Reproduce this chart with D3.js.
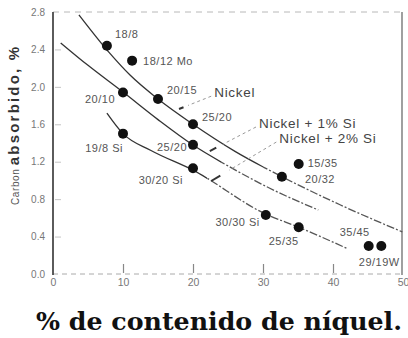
<!DOCTYPE html>
<html>
<head>
<meta charset="utf-8">
<script src="https://cdn.jsdelivr.net/npm/d3@7/dist/d3.min.js"></script>
<style>
  html, body { margin: 0; padding: 0; background: #fff; }
  svg { display: block; }
</style>
</head>
<body>
<svg id="chart" width="408" height="338"></svg>
<script>
// Alloys: Cr/Ni designation, nickel content (%) and absorbed carbon (%)
const alloyLabels = ["18/8", "18/12 Mo", "20/10", "19/8 Si", "20/15", "25/20", "25/20",
                     "30/20 Si", "30/30 Si", "15/35", "20/32", "25/35", "35/45", "29/19W"];
const alloyNickel = [7.7, 11.3, 10, 10, 15, 20, 20, 20, 30.4, 35.1, 32.7, 35.1, 45.1, 46.9];
const alloyCarbon = [2.44, 2.28, 1.94, 1.50, 1.87, 1.60, 1.38, 1.13, 0.63, 1.175, 1.04, 0.50, 0.30, 0.30];

// Trend curves (nickel %, carbon %)
const curveNames = ["Nickel", "Nickel + 1% Si", "Nickel + 2% Si"];
const nickelCurveX = [3.7, 8.1, 11.0, 15.0, 20.0, 26.0, 32.7, 41.0, 49.9];
const nickelCurveY = [2.77, 2.36, 2.126, 1.87, 1.60, 1.31, 1.04, 0.74, 0.45];
const si1CurveX = [1.1, 5.0, 10.0, 15.0, 20.0, 25.0, 30.9, 37.9];
const si1CurveY = [2.47, 2.23, 1.944, 1.65, 1.378, 1.155, 0.919, 0.684];
const si2CurveX = [7.7, 10.0, 14.0, 20.0, 30.4, 35.1, 42.1];
const si2CurveY = [1.72, 1.50, 1.32, 1.11, 0.64, 0.50, 0.27];

// Leader lines from each curve name to its curve: [startX, startY, endX, endY]
const leaderNickel = [22.6, 1.90, 18.0, 1.763];
const leaderSi1 = [29.0, 1.571, 22.4, 1.314];
const leaderSi2 = [31.9, 1.41, 22.6, 0.994];

const xTicks = [0, 10, 20, 30, 40, 50];
const yTicks = [0.0, 0.4, 0.8, 1.2, 1.6, 2.0, 2.4, 2.8];

const svg = d3.select("#chart");
const x = d3.scaleLinear().domain([0, 50]).range([53, 403]);
const y = d3.scaleLinear().domain([0, 2.8]).range([274, 12]);

// frame: faint top and bottom rules, solid left axis, right border
svg.append("line").attr("x1", x(0)).attr("x2", x(50)).attr("y1", y(2.8)).attr("y2", y(2.8))
  .attr("stroke", "#b8b8b8").attr("stroke-width", 1).attr("stroke-dasharray", "6,5");
svg.append("line").attr("x1", x(0)).attr("x2", x(50)).attr("y1", y(0)).attr("y2", y(0))
  .attr("stroke", "#aaa").attr("stroke-width", 1).attr("stroke-dasharray", "5,4");
svg.append("line").attr("x1", x(0)).attr("x2", x(0)).attr("y1", y(2.8)).attr("y2", y(0) + 1)
  .attr("stroke", "#4a4a4a").attr("stroke-width", 1.8);
svg.append("line").attr("x1", x(50) - 1).attr("x2", x(50) - 1).attr("y1", y(2.8)).attr("y2", y(0) + 1)
  .attr("stroke", "#777").attr("stroke-width", 1.4);

// y axis labels
const yAxis = svg.append("g").attr("transform", `translate(${x(0)},0)`)
  .call(d3.axisLeft(y).tickValues(yTicks).tickFormat(d3.format(".1f")).tickSize(0).tickPadding(8));
yAxis.select(".domain").remove();
yAxis.selectAll("text").attr("font-family", "Liberation Sans, Arial, sans-serif")
  .attr("font-size", 10).attr("fill", "#777");

// inner y tick marks
const yInner = svg.append("g").attr("transform", `translate(${x(0) + 2},0)`)
  .call(d3.axisRight(y).tickValues(yTicks.slice(1, -1)).tickSize(6).tickFormat(""));
yInner.select(".domain").remove();
yInner.selectAll("line").attr("stroke", "#c4c4c4").attr("stroke-width", 1);

// x axis labels
const xAxis = svg.append("g").attr("transform", `translate(0,${y(0)})`)
  .call(d3.axisBottom(x).tickValues(xTicks).tickSize(0).tickPadding(5));
xAxis.select(".domain").remove();
xAxis.selectAll("text").attr("font-family", "Liberation Sans, Arial, sans-serif")
  .attr("font-size", 10.5).attr("fill", "#777");

// inner x tick marks
const xInner = svg.append("g").attr("transform", `translate(0,${y(0) - 1})`)
  .call(d3.axisTop(x).tickValues(xTicks.slice(1, -1)).tickSize(9).tickFormat(""));
xInner.select(".domain").remove();
xInner.selectAll("line").attr("stroke", "#888").attr("stroke-width", 1.2);

// curves: solid on the left, broken further right
const line = d3.line().x(d => x(d[0])).y(d => y(d[1])).curve(d3.curveMonotoneX);
const curves = [
  d3.zip(nickelCurveX, nickelCurveY),
  d3.zip(si1CurveX, si1CurveY),
  d3.zip(si2CurveX, si2CurveY)
];
const splitAt = [30, 24, 22];
const defs = svg.append("defs");
curves.forEach((pts, i) => {
  defs.append("clipPath").attr("id", "solid" + i).append("rect")
    .attr("x", 0).attr("y", 0).attr("width", x(splitAt[i])).attr("height", 338);
  defs.append("clipPath").attr("id", "broken" + i).append("rect")
    .attr("x", x(splitAt[i])).attr("y", 0).attr("width", 408).attr("height", 338);
  svg.append("path").attr("d", line(pts)).attr("fill", "none")
    .attr("stroke", "#333").attr("stroke-width", 1.3).attr("clip-path", `url(#solid${i})`);
  svg.append("path").attr("d", line(pts)).attr("fill", "none")
    .attr("stroke", "#555").attr("stroke-width", 1.3).attr("stroke-dasharray", "8,2,2,2")
    .attr("clip-path", `url(#broken${i})`);
});

// leader lines with a short pointer at the curve end
[leaderNickel, leaderSi1, leaderSi2].forEach(l => {
  const x1 = x(l[0]), y1 = y(l[1]), x2 = x(l[2]), y2 = y(l[3]);
  const mx = x1 + (x2 - x1) * 0.72, my = y1 + (y2 - y1) * 0.72;
  const px = x1 + (x2 - x1) * 0.86, py = y1 + (y2 - y1) * 0.86;
  svg.append("line").attr("x1", x1).attr("y1", y1).attr("x2", mx).attr("y2", my)
    .attr("stroke", "#999").attr("stroke-width", 1).attr("stroke-dasharray", "3,3");
  svg.append("line").attr("x1", px).attr("y1", py).attr("x2", x2).attr("y2", y2)
    .attr("stroke", "#333").attr("stroke-width", 2);
});

// curve names
const nameAnchors = [leaderNickel, leaderSi1, leaderSi2];
curveNames.forEach((n, i) => {
  svg.append("text").attr("x", x(nameAnchors[i][0]) + 3).attr("y", y(nameAnchors[i][1]) + 1)
    .attr("font-family", "Liberation Sans, Arial, sans-serif").attr("font-size", 13.5)
    .attr("letter-spacing", 0.7).attr("fill", "#444").text(n);
});

// alloy points
const alloys = alloyLabels.map((name, i) => ({ name, ni: alloyNickel[i], c: alloyCarbon[i] }));
svg.append("g").selectAll("circle").data(alloys).join("circle")
  .attr("cx", d => x(d.ni)).attr("cy", d => y(d.c)).attr("r", 5).attr("fill", "#111");

// alloy label placement: [dx, dy, anchor]
const place = [
  [8, -8, "start"], [11, 4, "start"], [-8, 11, "end"], [0, 18, "end"],
  [9, -5, "start"], [9, -3, "start"], [-6, 6, "end"], [-10, 16, "end"],
  [-6, 11, "end"], [9, 3, "start"], [23, 6, "start"], [0, 18, "end"],
  [1, -10, "end"], [-2, 20, "middle"]
];
svg.append("g").selectAll("text").data(alloys).join("text")
  .attr("x", (d, i) => x(d.ni) + place[i][0])
  .attr("y", (d, i) => y(d.c) + place[i][1])
  .attr("text-anchor", (d, i) => place[i][2])
  .attr("font-family", "Liberation Sans, Arial, sans-serif").attr("font-size", 11)
  .attr("letter-spacing", 0.5).attr("fill", "#555")
  .text(d => d.name);

// y axis title
const yTitle = svg.append("text").attr("transform", "translate(19,205) rotate(-90)")
  .attr("font-family", "Liberation Sans, Arial, sans-serif");
yTitle.append("tspan").attr("font-size", 10).attr("letter-spacing", 0.6).attr("fill", "#555")
  .text("Carbon ");
yTitle.append("tspan").attr("font-size", 15).attr("letter-spacing", 2.2)
  .attr("font-weight", "bold").attr("fill", "#333").text("absorbido, %");

// x axis title
svg.append("text").attr("x", 219).attr("y", 330).attr("text-anchor", "middle")
  .attr("font-family", "DejaVu Serif, serif").attr("font-weight", "bold").attr("font-size", 24)
  .attr("textLength", 366).attr("lengthAdjust", "spacingAndGlyphs")
  .attr("fill", "#111").text("% de contenido de níquel.");
</script>
</body>
</html>
